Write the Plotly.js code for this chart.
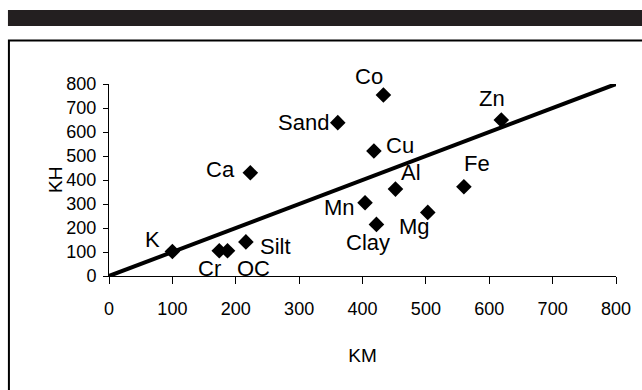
<!DOCTYPE html>
<html>
<head>
<meta charset="utf-8">
<script src="https://cdn.plot.ly/plotly-3.0.1.min.js"></script>
<style>html,body{margin:0;padding:0;background:#fff;}#chart{width:642px;height:390px;}</style>
</head>
<body>
<div id="chart"></div>
<script>
// Data
var elements = ["K", "Cr", "OC", "Silt", "Ca", "Sand", "Co", "Cu", "Al", "Mn", "Clay", "Mg", "Fe", "Zn"];
var kmValues = [100, 174, 187, 216, 223, 361, 433, 418, 452, 404, 422, 503, 560, 619];
var khValues = [102, 105, 105, 142, 430, 639, 754, 521, 362, 305, 215, 265, 372, 650];
var trendKM = [0, 800];
var trendKH = [0, 800];
var tickValues = [0, 100, 200, 300, 400, 500, 600, 700, 800];
var xTitle = "KM";
var yTitle = "KH";

// Label offsets (style, in pixels)
var labelDX = [-20, -10, 26, 30, -30, -34, -14, 26, 16, -26, -8, -13, 13, -9];
var labelDY = [12, -18, -18, -5, 3, 0, 19, 5, 17, -5, -18, -14, 23, 22];

var tickFont = {family: "Liberation Sans, Arial, sans-serif", size: 18, color: "#000"};
var labelFont = {family: "Liberation Sans, Arial, Helvetica, sans-serif", size: 22, color: "#000"};

var annotations = elements.map(function (name, i) {
  return {
    x: kmValues[i], y: khValues[i], xref: "x", yref: "y",
    text: name, showarrow: false,
    xshift: labelDX[i], yshift: labelDY[i],
    xanchor: "center", yanchor: "middle",
    font: labelFont
  };
});
annotations.push({
  x: -0.1066, y: 0.5, xref: "paper", yref: "paper", text: yTitle, textangle: -90,
  showarrow: false, xanchor: "center", yanchor: "middle",
  font: {family: tickFont.family, size: 19, color: "#000"}
});

var traces = [
  {
    x: trendKM, y: trendKH, mode: "lines", type: "scatter",
    line: {color: "#000", width: 4}, hoverinfo: "skip", showlegend: false,
    cliponaxis: false
  },
  {
    x: kmValues, y: khValues, text: elements, mode: "markers", type: "scatter",
    marker: {symbol: "diamond", size: 12, color: "#000"}, showlegend: false,
    cliponaxis: false
  }
];

var layout = {
  width: 642, height: 390,
  margin: {l: 109, r: 26.3, t: 84, b: 114, pad: 0},
  paper_bgcolor: "#fff", plot_bgcolor: "#fff",
  showlegend: false,
  xaxis: {
    range: [0, 800], tickvals: tickValues, ticktext: tickValues.map(String),
    showgrid: false, zeroline: false, showline: true, linecolor: "#000", linewidth: 1,
    ticks: "outside", ticklen: 7, tickcolor: "#000", tickwidth: 1,
    tickfont: tickFont, ticklabelstandoff: 9,
    title: {text: xTitle, font: {family: tickFont.family, size: 19, color: "#000"}, standoff: 31},
    automargin: false, fixedrange: true
  },
  yaxis: {
    range: [0, 800], tickvals: tickValues, ticktext: tickValues.map(String),
    showgrid: false, zeroline: false, showline: true, linecolor: "#000", linewidth: 1,
    ticks: "outside", ticklen: 5, tickcolor: "#000", tickwidth: 1,
    tickfont: tickFont, ticklabelstandoff: 3,
    automargin: false, fixedrange: true
  },
  annotations: annotations,
  shapes: [
    {type: "rect", xref: "paper", yref: "paper", x0: -0.1993, x1: 1.1, y0: 1.302, y1: 1.385,
     fillcolor: "#231f20", line: {width: 0}, layer: "below"},
    {type: "rect", xref: "paper", yref: "paper", x0: -0.1974, x1: 1.2, y0: -0.7, y1: 1.2266,
     fillcolor: "rgba(0,0,0,0)", line: {color: "#000", width: 2}, layer: "below"}
  ]
};

Plotly.newPlot("chart", traces, layout, {displayModeBar: false, staticPlot: true});
</script>
</body>
</html>
